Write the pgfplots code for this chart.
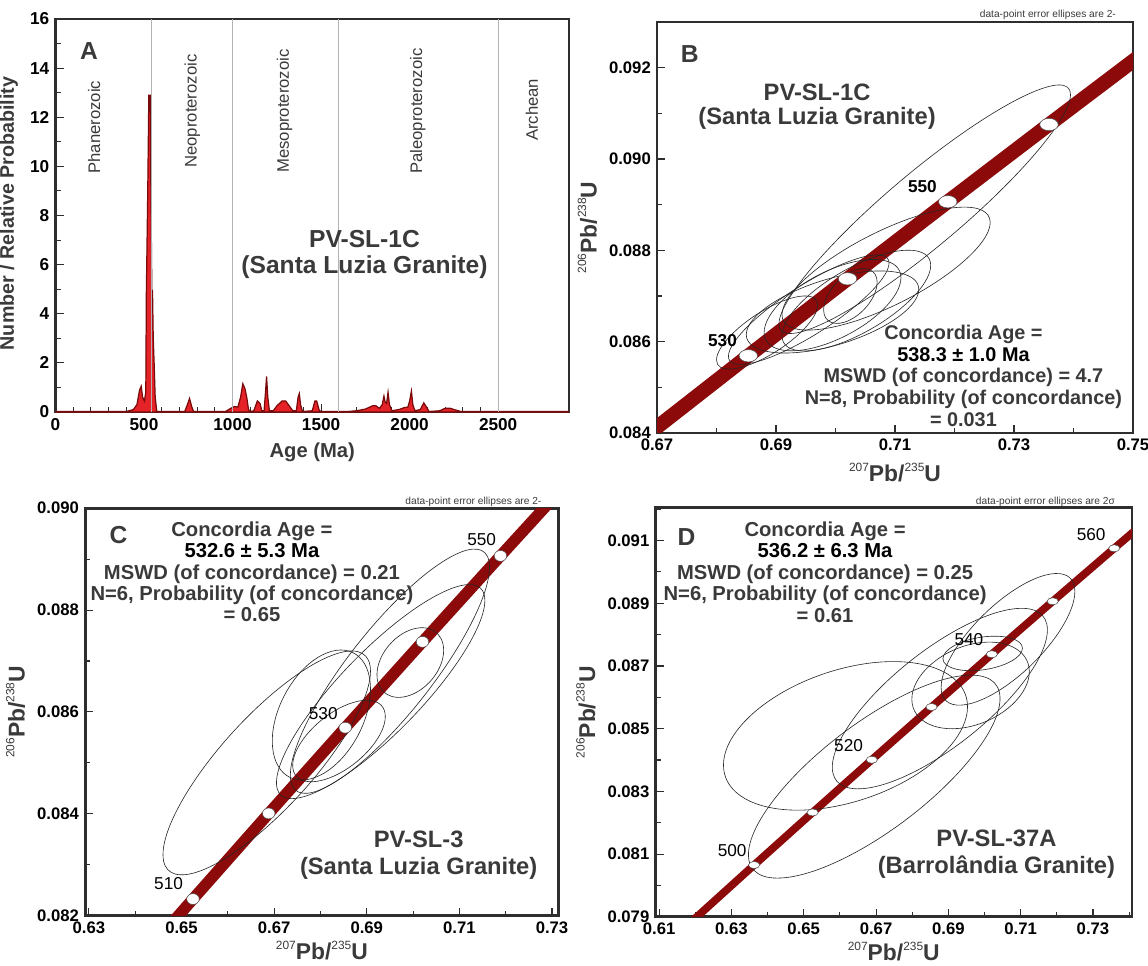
\documentclass[border=0pt]{standalone}
\usepackage{fontspec}
\setmainfont{Liberation Sans}
\usepackage{pgfplots}
\pgfplotsset{compat=1.18}

\definecolor{concred}{HTML}{8C0A0A}
\definecolor{pdfred}{HTML}{E52228}
\definecolor{pdfedge}{HTML}{7A0A0A}
\definecolor{txt}{HTML}{3A3A3A}
\definecolor{frame}{HTML}{2E2E2E}

\newcommand{\fs}[2]{\fontsize{#1}{#2}\selectfont}
\newcommand{\sups}[1]{\raisebox{0.85ex}{\mdseries\fontsize{6.8}{7}\selectfont #1}}
% error ellipse: centre x, centre y, conjugate half-axis (a,b), vertical half-axis d
\newcommand{\errell}[5]{\pgfplotsextra{\begin{pgfscope}\pgfsetlinewidth{0.35pt}\pgfsetstrokecolor{black!85}%
  \pgfpathellipse{\pgfplotspointaxisxy{#1}{#2}}{\pgfplotspointaxisdirectionxy{#3}{#4}}{\pgfplotspointaxisdirectionxy{0}{#5}}%
  \pgfusepath{stroke}\end{pgfscope}}}

\pgfplotsset{
  panel/.style={
    anchor=south west, scale only axis, clip mode=individual,
    axis line style={frame, line width=1.6pt},
    tick align=inside, xtick pos=bottom, ytick pos=left,
    major tick length=1.6mm, minor tick length=1mm,
    every tick/.style={frame, line width=0.6pt},
    tick label style={font=\bfseries\fs{9.5}{11}},
    scaled ticks=false,
    /pgf/number format/assume math mode=true,
    label style={font=\bfseries\fs{13}{14}, text=txt},
  },
  conc/.style={panel,
    yticklabel style={/pgf/number format/fixed, /pgf/number format/fixed zerofill,
      /pgf/number format/precision=3},
    xticklabel style={/pgf/number format/fixed, /pgf/number format/fixed zerofill,
      /pgf/number format/precision=2},
    xlabel={\sups{207}Pb/\sups{235}U},
    ylabel={\sups{206}Pb/\sups{238}U},
  },
}

\begin{document}
\begin{tikzpicture}
\path[use as bounding box] (0,0) rectangle (229.6mm,193mm);

% ---------------- A: probability density ----------------
\begin{axis}[panel, at={(11.1mm,110.6mm)}, width=102.7mm, height=78.6mm,
  xmin=0, xmax=2900, ymin=0, ymax=16,
  xtick={0,500,1000,1500,2000,2500}, minor x tick num=4,
  ytick={0,2,4,6,8,10,12,14,16}, minor y tick num=1,
  /pgf/number format/1000 sep={},
  xlabel={Age (Ma)}, ylabel={Number / Relative Probability},
  ylabel style={font=\bfseries\fs{11.2}{13}, xshift=0.4mm},
  xlabel style={font=\bfseries\fs{11.5}{13}},
  tick label style={font=\bfseries\fs{9.8}{11}}]
\addplot[fill=pdfred, draw=pdfedge, line width=0.7pt] coordinates {
 (0,0.02) (400,0.02) (440,0.1) (460,0.3) (475,0.9) (484,1.05) (492,0.6) (502,0.45)
 (510,0.8) (513,4.8) (521,9.0) (527,12.9) (535,12.9) (539,8.8) (544,5.0) (548,4.9)
 (552,3.0) (557,2.0) (563,0.6) (572,0.02) (730,0.02) (745,0.3) (757,0.55) (770,0.2)
 (780,0.02) (960,0.02) (990,0.15) (1010,0.22) (1030,0.2) (1045,0.6) (1058,1.15)
 (1070,0.95) (1080,0.6) (1090,0.1) (1100,0.02) (1120,0.05) (1140,0.45) (1155,0.35)
 (1165,0.05) (1178,0.05) (1186,0.8) (1192,1.45) (1199,0.6) (1208,0.05) (1230,0.05)
 (1250,0.25) (1280,0.45) (1300,0.45) (1320,0.25) (1340,0.05) (1360,0.05) (1370,0.6)
 (1377,0.75) (1384,0.3) (1395,0.02) (1450,0.05) (1465,0.45) (1475,0.45) (1490,0.05)
 (1510,0.02) (1650,0.02) (1700,0.05) (1750,0.12) (1790,0.25) (1810,0.25) (1830,0.15)
 (1845,0.3) (1855,0.65) (1862,0.4) (1870,0.35) (1878,0.8) (1886,0.3) (1900,0.05)
 (1940,0.1) (1970,0.18) (1990,0.2) (2000,0.45) (2010,0.85) (2018,0.3) (2030,0.05)
 (2060,0.1) (2080,0.37) (2095,0.2) (2110,0.02) (2170,0.05) (2200,0.15) (2230,0.15)
 (2260,0.08) (2290,0.02) (2900,0.02)} \closedcycle;
\addplot[gray!60, line width=0.6pt] coordinates {(541,0) (541,16)};
\addplot[gray!60, line width=0.6pt] coordinates {(1000,0) (1000,16)};
\addplot[gray!60, line width=0.6pt] coordinates {(1600,0) (1600,16)};
\addplot[gray!60, line width=0.6pt] coordinates {(2500,0) (2500,16)};
\node[font=\bfseries\fs{14}{16}, text=txt] at (axis cs:189,14.7) {A};
\node[rotate=90, font=\fs{9.5}{11}, text=txt] at (axis cs:219,11.6) {Phanerozoic};
\node[rotate=90, font=\fs{9.5}{11}, text=txt] at (axis cs:772,12.25) {Neoproterozoic};
\node[rotate=90, font=\fs{9.5}{11}, text=txt] at (axis cs:1293,12.25) {Mesoproterozoic};
\node[rotate=90, font=\fs{9.5}{11}, text=txt] at (axis cs:2046,12.25) {Paleoproterozoic};
\node[rotate=90, font=\fs{9.5}{11}, text=txt] at (axis cs:2691,12.3) {Archean};
\node[align=center, font=\bfseries\fs{14}{14.5}, text=txt] at (axis cs:1745,6.42)
  {PV-SL-1C\\(Santa Luzia Granite)};
\end{axis}

% ---------------- B: PV-SL-1C concordia ----------------
\begin{axis}[conc, at={(131.4mm,106.4mm)}, width=95.2mm, height=82.2mm,
  xmin=0.67, xmax=0.75, ymin=0.084, ymax=0.093,
  xtick={0.67,0.69,0.71,0.73,0.75}, minor xtick={0.68,0.70,0.72,0.74},
  ytick={0.084,0.086,0.088,0.090,0.092}, minor ytick={0.085,0.087,0.089,0.091}]
\addplot[concred, line width=8.2pt] coordinates {
 (0.60437,0.077302) (0.62024,0.078975) (0.63628,0.080650) (0.65247,0.082327)
 (0.66883,0.084008) (0.68535,0.085691) (0.70203,0.087376) (0.71887,0.089064)
 (0.73588,0.090755) (0.75306,0.092448) (0.77041,0.094144)};
\errell{0.715}{0.0889}{0.0245}{0.00251}{0.00105}
\errell{0.7085}{0.0876}{0.0175}{0.00101}{0.00089}
\errell{0.6955}{0.0867}{0.0135}{0.00102}{0.00063}
\errell{0.7035}{0.0869}{0.0125}{0.00077}{0.00079}
\errell{0.6995}{0.0868}{0.0115}{0.0006}{0.0008}
\errell{0.7025}{0.0870}{0.0045}{0.0003}{0.00052}
\errell{0.6995}{0.08665}{0.0145}{0.000495}{0.00075}
\errell{0.6885}{0.0862}{0.0085}{0.0006}{0.00053}
\addplot[only marks, mark=*, mark size=3.5pt,
  mark options={fill=white, draw=black!70, line width=0.3pt, xscale=1.5}] coordinates {
 (0.68535,0.085691) (0.70203,0.087376) (0.71887,0.089064) (0.73588,0.090755)};
\node[font=\bfseries\fs{14}{16}, text=txt] at (axis cs:0.6755,0.0923) {B};
\node[align=center, font=\bfseries\fs{13.5}{13.8}, text=txt] at (axis cs:0.6969,0.09114)
  {PV-SL-1C\\(Santa Luzia Granite)};
\node[font=\bfseries\fs{9.8}{11}] at (axis cs:0.7146,0.0894) {550};
\node[font=\bfseries\fs{9.8}{11}] at (axis cs:0.681,0.08602) {530};
\node[align=center, font=\bfseries\fs{11.3}{12.3}, text=txt] at (axis cs:0.7215,0.08525)
  {Concordia Age =\\{\color{black}538.3 ± 1.0 Ma}\\MSWD (of concordance) = 4.7\\
   N=8, Probability (of concordance)\\= 0.031};
\node[anchor=east, font=\fs{5.8}{7}, text=txt] at (rel axis cs:0.977,1) [yshift=1.5mm]
  {data-point error ellipses are 2-};
\end{axis}

% ---------------- C: PV-SL-3 concordia ----------------
\begin{axis}[conc, at={(17.04mm,9.86mm)}, width=94.66mm, height=81.5mm,
  xmin=0.6292, xmax=0.7314, ymin=0.082, ymax=0.090,
  xtick={0.63,0.65,0.67,0.69,0.71,0.73}, minor xtick={0.64,0.66,0.68,0.70,0.72},
  ytick={0.082,0.084,0.086,0.088,0.090}, minor ytick={0.083,0.085,0.087,0.089},
  xlabel style={yshift=1mm}]
\addplot[concred, line width=6.5pt] coordinates {
 (0.60437,0.077302) (0.62024,0.078975) (0.63628,0.080650) (0.65247,0.082327)
 (0.66883,0.084008) (0.68535,0.085691) (0.70203,0.087376) (0.71887,0.089064)
 (0.73588,0.090755) (0.75306,0.092448) (0.77041,0.094144)};
\errell{0.6684}{0.0850}{0.0224}{0.0018}{0.00126}
\errell{0.695}{0.0868}{0.0215}{0.00204}{0.00126}
\errell{0.693}{0.0864}{0.0225}{0.00179}{0.0011}
\errell{0.6802}{0.08594}{0.0106}{0.00051}{0.00117}
\errell{0.6994}{0.08697}{0.0072}{0.00024}{0.00064}
\errell{0.684}{0.08543}{0.010}{0.00048}{0.00064}
\addplot[only marks, mark=*, mark size=3.1pt,
  mark options={fill=white, draw=black!70, line width=0.3pt, xscale=1.15}] coordinates {
 (0.65247,0.082327) (0.66883,0.084008) (0.68535,0.085691) (0.70203,0.087376)
 (0.71887,0.089064)};
\node[font=\bfseries\fs{14}{16}, text=txt] at (axis cs:0.6364,0.08948) {C};
\node[align=center, font=\bfseries\fs{11.5}{12.2}, text=txt] at (axis cs:0.6652,0.08875)
  {Concordia Age =\\{\color{black}532.6 ± 5.3 Ma}\\MSWD (of concordance) = 0.21\\
   N=6, Probability (of concordance)\\= 0.65};
\node[font=\fs{9.8}{11}] at (axis cs:0.7148,0.08938) {550};
\node[font=\fs{9.8}{11}] at (axis cs:0.6806,0.08597) {530};
\node[font=\fs{9.8}{11}] at (axis cs:0.6472,0.08264) {510};
\node[align=center, font=\bfseries\fs{13.5}{15}, text=txt] at (axis cs:0.7012,0.08319)
  {PV-SL-3\\(Santa Luzia Granite)};
\node[anchor=east, font=\fs{5.8}{7}, text=txt] at (rel axis cs:0.977,1) [yshift=1.2mm]
  {data-point error ellipses are 2-};
\end{axis}

% ---------------- D: PV-SL-37A concordia ----------------
\begin{axis}[conc, at={(131.1mm,9.66mm)}, width=95.3mm, height=81.8mm,
  xmin=0.609, xmax=0.7408, ymin=0.079, ymax=0.09205,
  xtick={0.61,0.63,0.65,0.67,0.69,0.71,0.73}, minor xtick={0.62,0.64,0.66,0.68,0.70,0.72,0.74},
  ytick={0.079,0.081,0.083,0.085,0.087,0.089,0.091},
  minor ytick={0.080,0.082,0.084,0.086,0.088,0.090,0.092},
  xlabel style={yshift=1mm}]
\addplot[concred, line width=4.4pt] coordinates {
 (0.60437,0.077302) (0.62024,0.078975) (0.63628,0.080650) (0.65247,0.082327)
 (0.66883,0.084008) (0.68535,0.085691) (0.70203,0.087376) (0.71887,0.089064)
 (0.73588,0.090755) (0.75306,0.092448) (0.77041,0.094144)};
\errell{0.66155}{0.08477}{0.03375}{0.00093}{0.00218}
\errell{0.6695}{0.08347}{0.0348}{0.00249}{0.00207}
\errell{0.68765}{0.08596}{0.02975}{0.00219}{0.00187}
\errell{0.69615}{0.08638}{0.01625}{0.00044}{0.00131}
\errell{0.6995}{0.0874}{0.011}{0.000165}{0.000525}
\errell{0.7065}{0.08785}{0.0185}{0.00153}{0.00144}
\addplot[only marks, mark=*, mark size=2pt,
  mark options={fill=white, draw=black!70, line width=0.3pt, xscale=1.6}] coordinates {
 (0.63628,0.080650) (0.65247,0.082327) (0.66883,0.084008) (0.68535,0.085691)
 (0.70203,0.087376) (0.71887,0.089064) (0.73588,0.090755)};
\node[font=\bfseries\fs{14}{16}, text=txt] at (axis cs:0.6176,0.09113) {D};
\node[align=center, font=\bfseries\fs{11.5}{12.2}, text=txt] at (axis cs:0.6559,0.0900)
  {Concordia Age =\\{\color{black}536.2 ± 6.3 Ma}\\MSWD (of concordance) = 0.25\\
   N=6, Probability (of concordance)\\= 0.61};
\node[font=\fs{9.8}{11}] at (axis cs:0.7295,0.09119) {560};
\node[font=\fs{9.8}{11}] at (axis cs:0.6957,0.08783) {540};
\node[font=\fs{9.8}{11}] at (axis cs:0.6624,0.08446) {520};
\node[font=\fs{9.8}{11}] at (axis cs:0.6302,0.0811) {500};
\node[align=center, font=\bfseries\fs{13.5}{15}, text=txt] at (axis cs:0.7033,0.081)
  {PV-SL-37A\\(Barrolândia Granite)};
\node[anchor=east, font=\fs{5.8}{7}, text=txt] at (rel axis cs:0.977,1) [yshift=1.2mm]
  {data-point error ellipses are 2σ};
\end{axis}
\end{tikzpicture}
\end{document}
